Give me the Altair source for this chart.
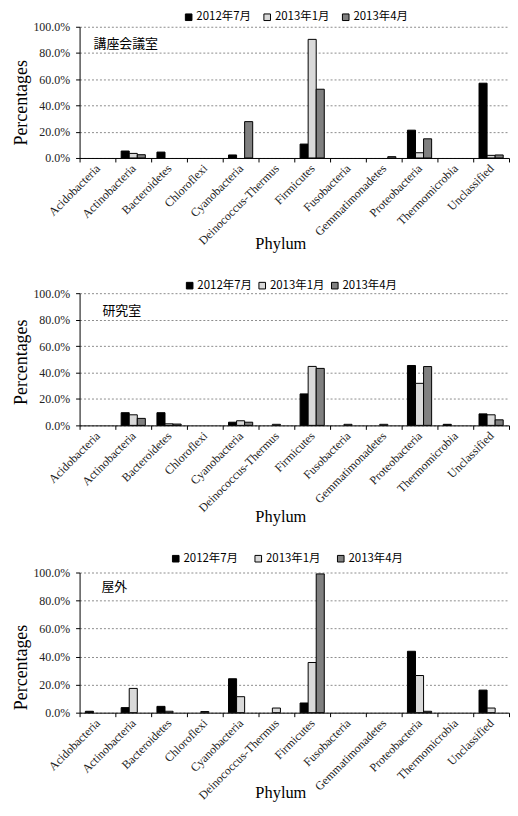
import altair as alt
import pandas as pd

categories = ["Acidobacteria", "Actinobacteria", "Bacteroidetes", "Chloroflexi",
              "Cyanobacteria", "Deinococcus-Thermus", "Firmicutes", "Fusobacteria",
              "Gemmatimonadetes", "Proteobacteria", "Thermomicrobia", "Unclassified"]
series = ["2012年7月", "2013年1月", "2013年4月"]
colors = ["#000000", "#d9d9d9", "#808080"]

# values in percent
room1_name = "講座会議室"
room1_jul2012 = [0, 5.3, 4.5, 0, 2.3, 0, 10.6, 0, 0, 21.2, 0, 57.0]
room1_jan2013 = [0, 3.5, 0, 0, 0, 0, 90.4, 0, 0, 4.0, 0, 2.0]
room1_apr2013 = [0, 2.5, 0, 0, 27.7, 0, 52.4, 0, 1.0, 14.6, 0, 2.3]

room2_name = "研究室"
room2_jul2012 = [0, 9.6, 9.6, 0, 2.4, 0, 23.8, 0, 0, 45.3, 0.8, 8.7]
room2_jan2013 = [0, 8.0, 1.2, 0, 3.5, 0.8, 44.6, 0.8, 0.8, 31.8, 0, 8.0]
room2_apr2013 = [0, 5.3, 1.0, 0, 2.4, 0, 43.1, 0, 0, 44.5, 0, 4.2]

room3_name = "屋外"
room3_jul2012 = [1.0, 3.6, 4.5, 0, 24.2, 0, 6.9, 0, 0, 43.8, 0, 16.1]
room3_jan2013 = [0, 17.3, 1.0, 0.8, 11.4, 3.3, 35.8, 0, 0, 26.5, 0, 3.3]
room3_apr2013 = [0, 0, 0, 0, 0, 0, 99.0, 0, 0, 1.0, 0, 0]

SERIF = "Liberation Serif"
SANS = "Noto Sans CJK JP"
W = 432


def panel(name, vals, height, legend_x, legend_y, legend_gap, ytitle_y, xtitle_y,
          note_x, note_y):
    rows = []
    for s, v in zip(series, vals):
        for c, p in zip(categories, v):
            if p > 0:
                rows.append({"phylum": c, "series": s, "value": p / 100.0})
    df = pd.DataFrame(rows)
    bars = alt.Chart(df).mark_bar(stroke="black", strokeWidth=1).encode(
        x=alt.X("phylum:N", sort=categories,
                scale=alt.Scale(domain=categories, paddingInner=0, paddingOuter=0),
                axis=alt.Axis(title="Phylum", titleFont=SERIF, titleFontSize=16.5,
                              titleFontWeight="normal", titleColor="#000",
                              titleX=202, titleY=xtitle_y, titleBaseline="middle",
                              titleAlign="center",
                              labelAngle=315, labelAlign="right", labelBaseline="middle",
                              labelFont=SERIF, labelFontSize=12, labelColor="#222",
                              labelPadding=4, tickBand="extent", tickSize=4,
                              tickColor="#000", domainColor="#000", labelOverlap=False)),
        xOffset=alt.XOffset("series:N", sort=series,
                            scale=alt.Scale(domain=series, paddingInner=0, paddingOuter=0.72)),
        y=alt.Y("value:Q", scale=alt.Scale(domain=[0, 1], nice=False),
                axis=alt.Axis(title="Percentages", values=[0, 0.2, 0.4, 0.6, 0.8, 1.0],
                              format=".1%", titleFont=SERIF, titleFontSize=18,
                              titleFontWeight="normal", titleColor="#000",
                              titleX=-58, titleY=ytitle_y, titleAngle=270,
                              titleAlign="center", titleBaseline="middle",
                              labelFont=SERIF, labelFontSize=12, labelColor="#222",
                              labelPadding=6, tickSize=4, tickColor="#000",
                              domainColor="#000", grid=True, gridColor="#8c8c8c",
                              gridDash=[2, 2], gridWidth=1)),
        color=alt.Color("series:N", sort=series,
                        scale=alt.Scale(domain=series, range=colors),
                        legend=alt.Legend(title=None, orient="none", direction="horizontal",
                                          legendX=legend_x, legendY=legend_y,
                                          symbolType="square", symbolSize=44,
                                          symbolStrokeColor="#000", symbolStrokeWidth=1,
                                          labelFont=SANS, labelFontSize=11.5,
                                          labelColor="#000", labelOffset=2,
                                          columnPadding=legend_gap, padding=0)),
    )
    note = alt.Chart(pd.DataFrame({"t": [name]})).mark_text(
        align="left", baseline="middle", font=SANS, fontSize=13, color="#000"
    ).encode(x=alt.value(note_x), y=alt.value(note_y), text="t:N")
    return alt.layer(bars, note).properties(width=W, height=height)


p1 = panel(room1_name, [room1_jul2012, room1_jan2013, room1_apr2013], 132,
           104, -15.7, 10, 76, 86, 14, 17.5)
p2 = panel(room2_name, [room2_jul2012, room2_jan2013, room2_apr2013], 133,
           105, -13.7, 4, 69, 92, 23, 17.5)
p3 = panel(room3_name, [room3_jul2012, room3_jan2013, room3_apr2013], 141,
           91, -20, 14, 95, 80, 22, 15)

chart = alt.vconcat(p1, p2, p3, spacing=27).resolve_scale(
    color="independent").resolve_legend(color="independent").properties(
    padding={"left": 5, "top": 0.5, "right": 0, "bottom": 0}
).configure_view(stroke=None)

chart.save("out.html", embed_options={"renderer": "svg", "actions": False})
